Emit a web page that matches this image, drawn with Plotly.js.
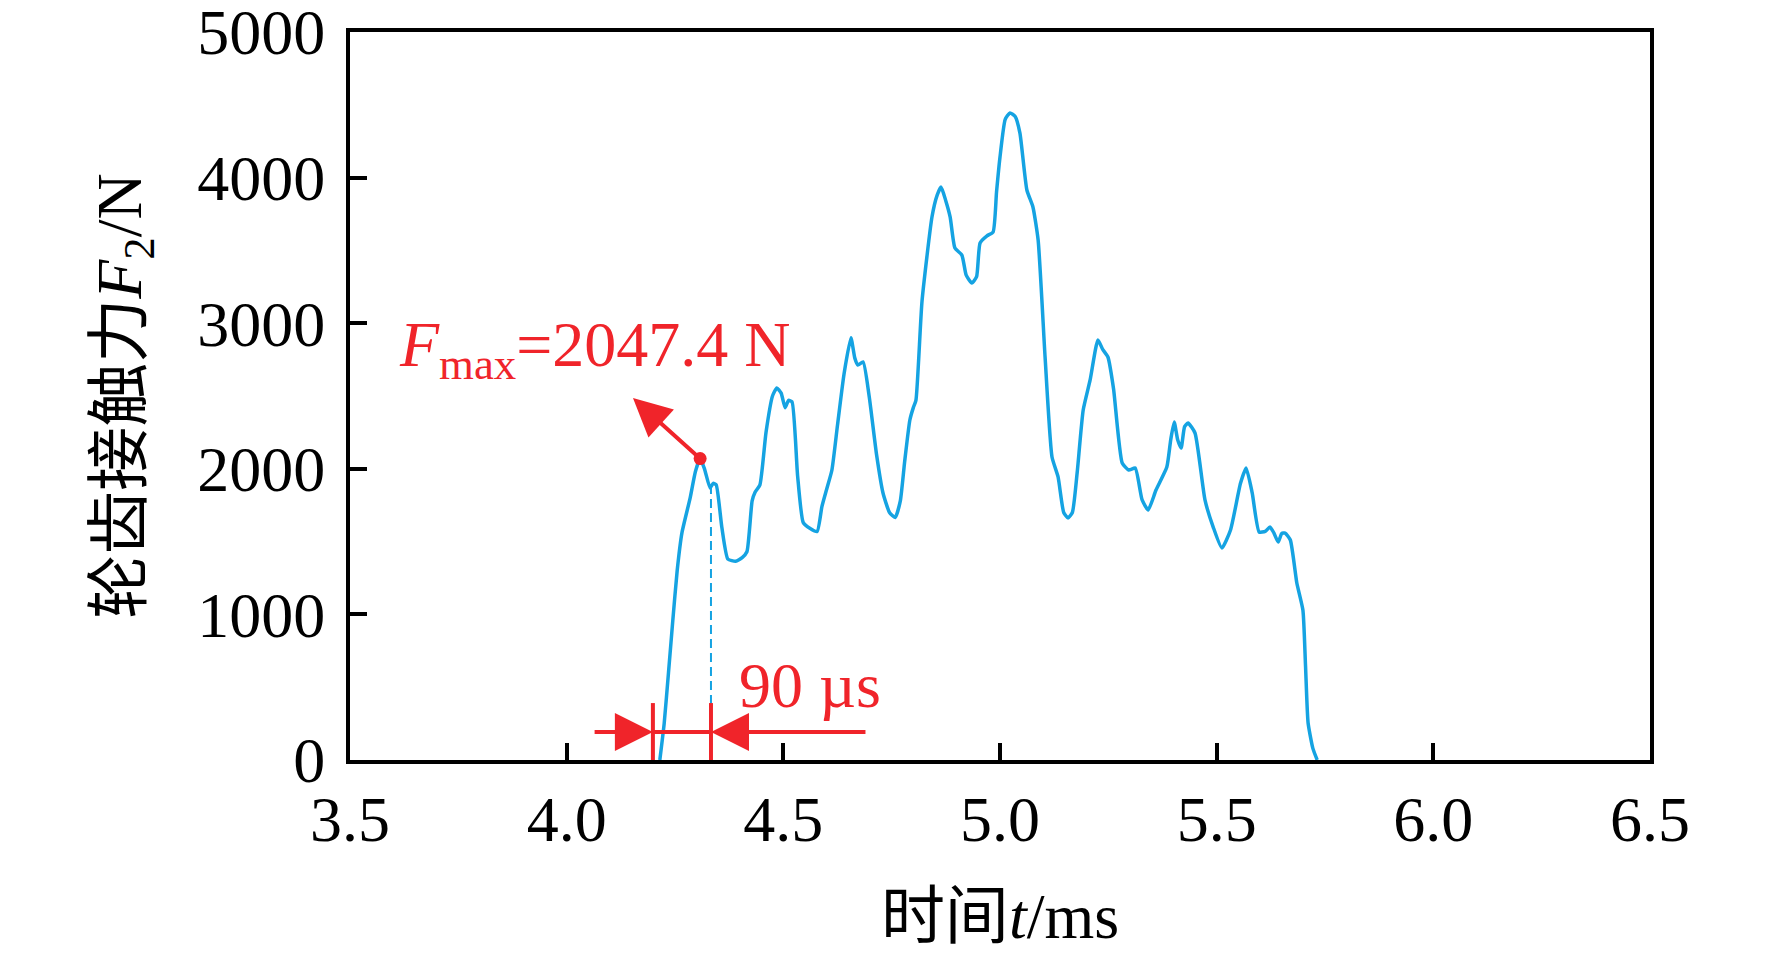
<!DOCTYPE html>
<html>
<head>
<meta charset="utf-8">
<script src="https://cdn.plot.ly/plotly-3.0.1.min.js"></script>
<style>
  body { margin: 0; background: #fff; }
  #chart { width: 1772px; height: 966px; }
</style>
</head>
<body>
<div id="chart"></div>
<script>
// contact force curve (t in ms, F in N)
const timeMs = [
  4.215, 4.225, 4.235, 4.245, 4.255, 4.266, 4.285, 4.297, 4.308, 4.318,
  4.331, 4.338, 4.345, 4.358, 4.372, 4.390, 4.405, 4.416, 4.428, 4.435,
  4.446, 4.460, 4.475, 4.485, 4.495, 4.504, 4.512, 4.520, 4.533, 4.546,
  4.562, 4.578, 4.589, 4.600, 4.612, 4.625, 4.640, 4.656, 4.665, 4.672,
  4.684, 4.698, 4.715, 4.730, 4.745, 4.758, 4.770, 4.780, 4.792, 4.800,
  4.806, 4.820, 4.843, 4.855, 4.864, 4.875, 4.885, 4.896, 4.912, 4.922,
  4.935, 4.946, 4.954, 4.970, 4.984, 4.992, 5.000, 5.012, 5.023, 5.035,
  5.046, 5.062, 5.076, 5.088, 5.104, 5.120, 5.134, 5.147, 5.157, 5.167,
  5.178, 5.192, 5.208, 5.226, 5.237, 5.249, 5.262, 5.282, 5.297, 5.312,
  5.328, 5.342, 5.360, 5.385, 5.394, 5.402, 5.410, 5.418, 5.426, 5.434,
  5.450, 5.473, 5.492, 5.512, 5.532, 5.555, 5.568, 5.582, 5.598, 5.612,
  5.623, 5.632, 5.642, 5.650, 5.658, 5.670, 5.685, 5.699, 5.705, 5.711,
  5.722, 5.732
];
const forceN = [
  0, 250, 600, 960, 1300, 1560, 1800, 1980, 2070, 2000,
  1868, 1900, 1890, 1600, 1380, 1365, 1390, 1430, 1780, 1840,
  1890, 2250, 2500, 2555, 2520, 2420, 2470, 2460, 1950, 1630,
  1590, 1570, 1740, 1860, 1990, 2300, 2650, 2900, 2760, 2713,
  2734, 2500, 2100, 1834, 1700, 1665, 1780, 2050, 2335, 2420,
  2470, 3150, 3729, 3880, 3935, 3840, 3729, 3516, 3468, 3330,
  3276, 3320, 3551, 3600, 3626, 3900, 4141, 4400, 4444, 4420,
  4306, 3915, 3798, 3571, 2768, 2081, 1944, 1700, 1662, 1700,
  1971, 2404, 2610, 2885, 2820, 2768, 2550, 2040, 1992, 2005,
  1786, 1717, 1854, 2012, 2200, 2321, 2200, 2143, 2290, 2314,
  2246, 1786, 1600, 1456, 1580, 1900, 2005, 1834, 1566, 1570,
  1600, 1560, 1497, 1555, 1559, 1511, 1216, 1030, 650, 254,
  80, 0
];

const xTicks = [3.5, 4.0, 4.5, 5.0, 5.5, 6.0, 6.5];
const yTicks = [0, 1000, 2000, 3000, 4000, 5000];

// annotation values
const peakT = 4.308, peakF = 2070, fmaxText = '2047.4 N';
const arrowTipT = 4.153, arrowTipF = 2486;
const spanStart = 4.199, spanEnd = 4.333, spanF = 192, barTopF = 391;
const spanLeftT = 4.061, spanRightT = 4.693;
const dashTopF = 1868;
const spanText = '90 µs';

const BLUE = '#15a3e2';
const RED = '#f0242a';
const FONT = 'Liberation Serif, "Times New Roman", "Noto Sans CJK SC", serif';

let traces = [
  {
    x: timeMs,
    y: forceN,
    type: 'scatter',
    mode: 'lines',
    line: { color: BLUE, width: 3.5, shape: 'spline', smoothing: 0.5 },
    hoverinfo: 'skip'
  },
  {
    x: [peakT],
    y: [peakF],
    type: 'scatter',
    mode: 'markers',
    marker: { color: RED, size: 13 },
    hoverinfo: 'skip'
  }
];

let shapes = [
  // dashed guide down from the curve
  { type: 'line', xref: 'x', yref: 'y', x0: spanEnd, x1: spanEnd, y0: 0, y1: dashTopF,
    line: { color: BLUE, width: 2, dash: '9px,5px' } },
  // dimension bars and the line between them
  { type: 'line', xref: 'x', yref: 'y', x0: spanStart, x1: spanStart, y0: 0, y1: barTopF,
    line: { color: RED, width: 4 } },
  { type: 'line', xref: 'x', yref: 'y', x0: spanEnd, x1: spanEnd, y0: 0, y1: barTopF,
    line: { color: RED, width: 4 } },
  { type: 'line', xref: 'x', yref: 'y', x0: spanStart, x1: spanEnd, y0: spanF, y1: spanF,
    line: { color: RED, width: 4 } }
];

function arrow(x, y, ax, ay) {
  return {
    x: x, y: y, ax: ax, ay: ay, xref: 'x', yref: 'y', axref: 'x', ayref: 'y',
    text: '', showarrow: true, arrowhead: 2, arrowsize: 1.9, arrowwidth: 4,
    arrowcolor: RED, standoff: 0, startstandoff: 0
  };
}

let annotations = [
  arrow(arrowTipT, arrowTipF, peakT, peakF),
  arrow(spanStart, spanF, spanLeftT, spanF),
  arrow(spanEnd, spanF, spanRightT, spanF),
  {
    x: 3.608, y: 2820, xref: 'x', yref: 'y', xanchor: 'left', yanchor: 'middle',
    text: '<i>F</i><sub>max</sub>=' + fmaxText, showarrow: false,
    font: { family: FONT, size: 64, color: RED }
  },
  {
    x: 4.393, y: 515, xref: 'x', yref: 'y', xanchor: 'left', yanchor: 'middle',
    text: spanText, showarrow: false,
    font: { family: FONT, size: 64, color: RED }
  }
];

let layout = {
  width: 1772,
  height: 966,
  paper_bgcolor: '#fff',
  plot_bgcolor: '#fff',
  showlegend: false,
  margin: { l: 350, r: 122, t: 32, b: 206, pad: 0 },
  font: { family: FONT, size: 64, color: '#000' },
  xaxis: {
    range: [3.5, 6.5],
    tickvals: xTicks,
    ticktext: xTicks.map(v => v.toFixed(1)),
    ticks: 'inside', ticklen: 17, tickwidth: 4, tickcolor: '#000',
    showline: true, linewidth: 4, linecolor: '#000', mirror: true,
    showgrid: false, zeroline: false,
    ticklabeloverflow: 'allow',
    tickfont: { family: FONT, size: 64, color: '#000' },
    title: { text: '时间<i>t</i>/ms', font: { family: FONT, size: 64, color: '#000' }, standoff: 40 }
  },
  yaxis: {
    range: [0, 5000],
    tickvals: yTicks,
    ticktext: yTicks.map(String),
    ticks: 'inside', ticklen: 17, tickwidth: 4, tickcolor: '#000',
    showline: true, linewidth: 4, linecolor: '#000', mirror: true,
    showgrid: false, zeroline: false,
    ticklabeloverflow: 'allow',
    ticklabelstandoff: 8,
    tickfont: { family: FONT, size: 64, color: '#000' },
    title: { text: '轮齿接触力<i>F</i><sub>2</sub>/N', font: { family: FONT, size: 64, color: '#000' }, standoff: 36 }
  },
  shapes: shapes,
  annotations: annotations
};

Plotly.newPlot('chart', traces, layout, { displayModeBar: false, staticPlot: true });
</script>
</body>
</html>
